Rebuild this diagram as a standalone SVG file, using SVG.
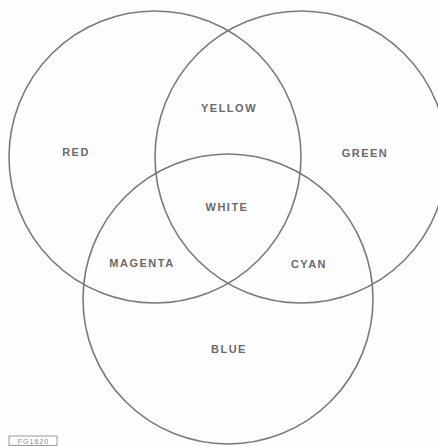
<svg xmlns="http://www.w3.org/2000/svg" width="438" height="446" viewBox="0 0 438 446">
<style>
.c{fill:none;stroke:#7a7a7a;stroke-width:1.6}
.t{font-family:"Liberation Sans",Arial,sans-serif;font-size:11px;font-weight:bold;fill:#6a6a6a;letter-spacing:1.5px;text-anchor:middle;dominant-baseline:central}
.tag{font-family:"Liberation Sans",Arial,sans-serif;font-size:7px;fill:#8a8a8a;letter-spacing:1px;text-anchor:middle}
</style>
<rect width="438" height="446" fill="#fdfdfd"/>
<g id="red"><circle class="c" cx="155" cy="157" r="146"/><text class="t" x="76" y="152">RED</text></g>
<g id="green"><circle class="c" cx="301" cy="157" r="146"/><text class="t" x="365" y="153">GREEN</text></g>
<g id="blue"><circle class="c" cx="228" cy="299" r="145"/><text class="t" x="229" y="349">BLUE</text></g>
<g id="yellow"><text class="t" x="229" y="108">YELLOW</text></g>
<g id="white"><text class="t" x="227" y="207">WHITE</text></g>
<g id="magenta"><text class="t" x="142" y="263">MAGENTA</text></g>
<g id="cyan"><text class="t" x="309" y="264">CYAN</text></g>
<g id="tag"><rect x="9" y="436" width="48" height="9.5" fill="none" stroke="#9a9a9a" stroke-width="1"/><text class="tag" x="33.5" y="443.5">FG1620</text></g>
</svg>
